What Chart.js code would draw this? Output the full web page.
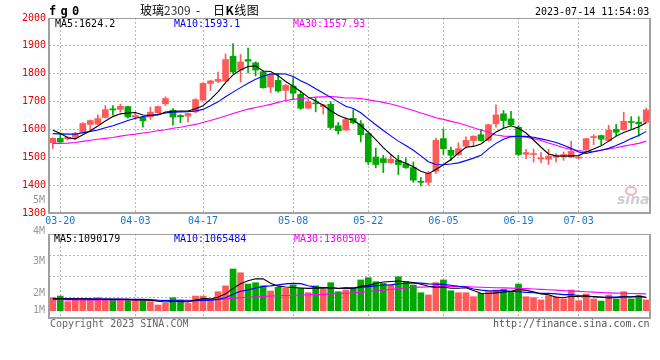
<!DOCTYPE html>
<html><head><meta charset="utf-8">
<script src="https://cdn.jsdelivr.net/npm/chart.js@4.4.0/dist/chart.umd.min.js"></script>
<style>
html,body{margin:0;padding:0;background:#fff;width:660px;height:360px;overflow:hidden;}
body{position:relative;}
canvas{position:absolute;left:0;}
.t{position:absolute;font-family:'DejaVu Sans Mono',monospace;font-size:10px;line-height:10px;white-space:pre;}
.cjk{position:absolute;font-family:'Noto Sans CJK SC',sans-serif;font-size:12px;line-height:12px;white-space:pre;color:#000;}
</style></head><body>
<canvas id="price" width="660" height="233" style="top:0px"></canvas>
<canvas id="vol" width="660" height="100" style="top:226px"></canvas>

<div class="t" style="left:49px;top:5px;font-size:12px;line-height:12px;font-weight:bold;letter-spacing:4.3px;color:#000">fg0</div>
<div class="cjk" style="left:140px;top:4px">玻璃<span style="color:#333">2309</span></div>
<div class="cjk" style="left:196px;top:4px">-</div>
<div class="cjk" style="left:213px;top:4px;letter-spacing:0.5px">日<b>K</b>线图</div>
<div class="t" id="stamp" style="left:535px;top:7px;color:#000"></div>

<div class="t" id="pm5" style="left:55px;top:19px;color:#000"></div>
<div class="t" id="pm10" style="left:174px;top:19px;color:#0000ff"></div>
<div class="t" id="pm30" style="left:293px;top:19px;color:#ff00ff"></div>

<div class="t" id="vm5" style="left:54px;top:234px;color:#000"></div>
<div class="t" id="vm10" style="left:174px;top:234px;color:#0000ff"></div>
<div class="t" id="vm30" style="left:294px;top:234px;color:#ff00ff"></div>

<div id="vlabels"></div>

<div style="position:absolute;left:625px;top:186px;width:8px;height:6px;border:2px solid #f3b4b4;border-radius:50%;"></div>
<div style="position:absolute;left:617px;top:192px;font:italic bold 14px 'DejaVu Sans',sans-serif;line-height:14px;color:#cfcfcf;">sina</div>

<div class="t" style="left:50px;top:319px;color:#666">Copyright 2023 SINA.COM</div>
<div class="t" style="left:493px;top:319px;color:#555">http://finance.sina.com.cn</div>

<script>
// ---------------- data ----------------
const dates = ['03-17','03-20','03-21','03-22','03-23','03-24','03-27','03-28','03-29','03-30','03-31',
 '04-03','04-04','04-06','04-07','04-10','04-11','04-12','04-13','04-14',
 '04-17','04-18','04-19','04-20','04-21','04-24','04-25','04-26','04-27','04-28',
 '05-04','05-05','05-08','05-09','05-10','05-11','05-12','05-15','05-16','05-17','05-18','05-19',
 '05-22','05-23','05-24','05-25','05-26','05-29','05-30','05-31',
 '06-01','06-02','06-05','06-06','06-07','06-08','06-09','06-12','06-13','06-14','06-15','06-16',
 '06-19','06-20','06-21','06-26','06-27','06-28','06-29','06-30',
 '07-03','07-04','07-05','07-06','07-07','07-10','07-11','07-12','07-13','07-14'];
const tickDates = ['03-20','04-03','04-17','05-08','05-22','06-05','06-19','07-03'];
const priceTicks = [1300,1400,1500,1600,1700,1800,1900,2000];

const opens = [1552,1568,1566,1572,1588,1618,1619,1643,1674,1672, 1682,1644,1643,1645,1660,1692,1669,1650,1648,1663,
 1705,1765,1773,1774,1863,1813,1851,1839,1807,1752, 1776,1740,1756,1726,1676,1694,1682,1690,1613,1598,
 1640,1620,1585,1501,1495,1481,1489,1477,1463,1412, 1410,1450,1567,1525,1510,1540,1560,1581,1561,1620,
 1656,1638,1608,1511,1510,1494,1493,1501,1505,1501, 1497,1527,1571,1578,1560,1600,1599,1627,1626,1626];
const closes = [1568,1555,1572,1584,1621,1632,1639,1671,1670,1683, 1645,1650,1631,1662,1682,1711,1644,1645,1657,1707,
 1765,1774,1780,1851,1806,1842,1845,1813,1750,1798, 1738,1758,1730,1676,1699,1692,1688,1607,1595,1635,
 1624,1581,1483,1474,1481,1493,1474,1463,1418,1410, 1442,1561,1531,1507,1531,1561,1576,1560,1617,1652,
 1632,1617,1510,1517,1513,1498,1504,1507,1510,1521, 1499,1567,1573,1565,1597,1590,1629,1625,1620,1670];
const highs = [1570,1585,1574,1590,1625,1634,1652,1686,1686,1691, 1684,1660,1647,1680,1684,1717,1675,1653,1658,1711,
 1768,1777,1806,1871,1908,1869,1892,1843,1810,1800, 1800,1762,1786,1738,1708,1714,1690,1699,1625,1643,
 1671,1632,1588,1533,1507,1510,1507,1495,1483,1427, 1450,1569,1602,1537,1552,1573,1577,1600,1619,1688,
 1668,1665,1614,1529,1529,1517,1529,1513,1519,1557, 1503,1568,1581,1580,1615,1618,1662,1646,1646,1676];
const lows = [1531,1553,1562,1564,1586,1598,1617,1640,1651,1662, 1640,1636,1608,1636,1658,1686,1615,1624,1627,1660,
 1703,1740,1768,1772,1800,1770,1803,1792,1748,1732, 1734,1705,1706,1672,1675,1663,1655,1601,1583,1596,
 1620,1555,1474,1462,1445,1478,1438,1460,1410,1397, 1400,1442,1510,1489,1507,1533,1540,1558,1558,1608,
 1605,1615,1505,1495,1483,1481,1474,1483,1489,1499, 1494,1525,1545,1545,1558,1576,1597,1602,1576,1624];

const ma5 = [1597,1586,1570,1566,1581,1595,1612,1630,1646,1656,1659,1661,1652,1651,1652,1662,1665,1666,1666,1674,
 1685,1708,1735,1768,1796,1813,1826,1828,1810,1808,1793,1772,1755,1736,1716,1702,1687,1667,1651,1639,
 1634,1614,1590,1563,1535,1510,1488,1479,1466,1450,1441,1456,1473,1492,1515,1536,1539,1548,1568,1591,
 1604,1613,1604,1587,1562,1536,1512,1505,1504,1505,1506,1519,1530,1541,1558,1576,1589,1599,1610,1624];
const ma10 = [1585,1584,1583,1583,1588,1593,1598,1606,1613,1622,1632,1640,1646,1650,1654,1659,1662,1663,1664,1666,
 1672,1685,1699,1717,1734,1750,1766,1780,1791,1799,1800,1799,1790,1775,1762,1746,1731,1715,1699,1683,
 1675,1660,1638,1617,1596,1577,1558,1542,1525,1505,1484,1474,1473,1476,1480,1488,1497,1507,1530,1550,
 1565,1574,1575,1575,1572,1566,1560,1553,1543,1532,1519,1514,1520,1525,1532,1542,1554,1567,1578,1593];
const ma30 = [1550,1550,1551,1553,1557,1561,1565,1568,1571,1576,1580,1583,1587,1591,1595,1599,1604,1608,1613,1618,
 1625,1632,1640,1648,1657,1665,1673,1679,1684,1690,1697,1704,1708,1711,1713,1716,1717,1718,1716,1713,
 1713,1711,1706,1702,1697,1691,1684,1676,1668,1659,1651,1642,1636,1629,1623,1615,1606,1598,1590,1580,
 1576,1575,1574,1572,1567,1560,1551,1543,1534,1528,1524,1521,1521,1526,1530,1534,1540,1545,1550,1558];

// volume, in millions
const volumeM = [1.05,1.18,0.73,0.92,0.91,0.91,1.05,0.87,0.87,0.87,0.87,0.87,0.87,0.73,0.46,0.59,1.05,0.87,0.59,1.18,
 1.18,0.91,1.53,2.00,3.36,3.06,2.15,2.26,2.00,1.59,1.89,1.80,2.07,1.80,1.45,2.00,1.72,2.26,1.53,1.67,
 1.86,2.48,2.66,2.34,2.20,2.07,2.74,2.34,2.07,1.45,1.27,2.26,2.48,1.61,1.45,1.45,1.13,1.40,1.53,1.67,
 1.72,1.53,2.15,1.13,1.05,0.87,1.21,1.13,0.95,1.67,0.81,1.35,0.95,0.78,1.27,0.95,1.53,0.95,1.21,0.87];
const volMa5 = [0.95,0.97,0.93,0.95,0.96,0.93,0.90,0.93,0.92,0.91,0.91,0.87,0.87,0.84,0.76,0.70,0.74,0.74,0.71,0.86,
 0.97,0.95,1.08,1.36,1.80,2.17,2.42,2.57,2.57,2.21,1.98,1.91,1.87,1.83,1.80,1.82,1.81,1.85,1.79,1.84,
 1.81,1.96,2.04,2.20,2.31,2.35,2.40,2.34,2.28,2.13,1.97,1.88,1.91,1.81,1.81,1.85,1.62,1.41,1.39,1.44,
 1.49,1.57,1.72,1.64,1.52,1.35,1.28,1.08,1.04,1.17,1.15,1.18,1.15,1.11,1.03,1.06,1.10,1.10,1.18,1.09];
const volMa10 = [0.98,0.98,0.97,0.96,0.96,0.95,0.95,0.94,0.93,0.93,0.92,0.91,0.91,0.89,0.84,0.81,0.81,0.80,0.77,0.80,
 0.83,0.84,0.91,1.04,1.33,1.57,1.68,1.82,1.96,2.00,2.08,2.16,2.20,2.18,2.01,1.90,1.86,1.86,1.81,1.82,
 1.82,1.88,1.94,2.00,2.07,2.08,2.18,2.19,2.24,2.22,2.16,2.14,2.12,2.05,1.97,1.91,1.75,1.66,1.60,1.60,
 1.62,1.57,1.53,1.48,1.45,1.40,1.40,1.36,1.30,1.30,1.22,1.21,1.11,1.08,1.10,1.11,1.14,1.12,1.15,1.07];
const volMa30 = [0.88,0.88,0.87,0.87,0.87,0.87,0.87,0.86,0.86,0.86,0.86,0.86,0.86,0.85,0.84,0.84,0.84,0.84,0.83,0.84,
 0.85,0.87,0.90,0.94,1.00,1.05,1.09,1.12,1.15,1.18,1.20,1.22,1.24,1.26,1.28,1.30,1.32,1.36,1.38,1.41,
 1.44,1.49,1.55,1.60,1.66,1.71,1.78,1.84,1.88,1.90,1.91,1.94,1.96,1.97,1.96,1.94,1.91,1.89,1.87,1.85,
 1.84,1.82,1.80,1.78,1.75,1.72,1.69,1.66,1.62,1.60,1.56,1.53,1.50,1.47,1.44,1.42,1.41,1.39,1.38,1.36];

const priceLegend = ['MA5:1624.2','MA10:1593.1','MA30:1557.93'];
const volLegend = ['MA5:1090179','MA10:1065484','MA30:1360509'];
const volLabels = ['5M','4M','3M','2M','1M'];
const stamp = '2023-07-14 11:54:03';

// ---------------- styles ----------------
const RED = '#ff5a5a', GREEN = '#00a800';
const MONO = 'DejaVu Sans Mono';
const GRID = '#b8b8b8';
const upColors = opens.map((o, i) => closes[i] >= o ? RED : GREEN);

document.getElementById('stamp').textContent = stamp;
['pm5','pm10','pm30'].forEach((id, i) => document.getElementById(id).textContent = priceLegend[i]);
['vm5','vm10','vm30'].forEach((id, i) => document.getElementById(id).textContent = volLegend[i]);
const vlTops = [195, 226, 256, 288, 305];
const vl = document.getElementById('vlabels');
volLabels.forEach((s, i) => {
  const d = document.createElement('div');
  d.className = 't';
  d.style.cssText = 'right:615px;top:' + vlTops[i] + 'px;color:#999;';
  d.textContent = s;
  vl.appendChild(d);
});

const framePlugin = {
  id: 'frame',
  afterDraw(chart) {
    const {ctx, chartArea: a} = chart;
    ctx.save();
    ctx.strokeStyle = '#a0a0a0';
    ctx.lineWidth = 1;
    ctx.beginPath(); ctx.moveTo(a.left, a.top + 0.5); ctx.lineTo(a.right, a.top + 0.5); ctx.stroke();
    ctx.lineWidth = 2;
    ctx.beginPath();
    ctx.moveTo(a.left, a.top); ctx.lineTo(a.left, a.bottom); ctx.lineTo(a.right, a.bottom); ctx.lineTo(a.right, a.top);
    ctx.stroke();
    ctx.restore();
  }
};

function dateAxis(showLabels) {
  return {
    type: 'category',
    offset: true,
    afterBuildTicks: s => { s.ticks = s.ticks.filter(t => tickDates.includes(dates[t.value])); },
    afterFit: s => { s.height = showLabels ? 20 : 0; },
    grid: { display: true, offset: false, drawTicks: false, color: GRID, lineWidth: 1 },
    border: { display: false, dash: [2, 2] },
    ticks: { display: showLabels, autoSkip: false, maxRotation: 0, padding: 2,
             color: '#1874cd', font: { family: MONO, size: 10 } }
  };
}

const lineDs = (data, color) => ({
  type: 'line', data, borderColor: color, borderWidth: 1.1, pointRadius: 0,
  tension: 0, fill: false, order: 1
});

Chart.defaults.animation = false;

new Chart(document.getElementById('price'), {
  type: 'bar',
  data: {
    labels: dates,
    datasets: [
      lineDs(ma5, '#000000'),
      lineDs(ma10, '#0000ff'),
      lineDs(ma30, '#ff00ff'),
      { data: opens.map((o, i) => [o, closes[i]]), backgroundColor: upColors,
        barThickness: 6, grouped: false, minBarLength: 1, order: 2 },
      { data: lows.map((l, i) => [l, highs[i]]), backgroundColor: upColors,
        barThickness: 1, grouped: false, order: 3 }
    ]
  },
  options: {
    responsive: false, animation: false,
    layout: { padding: { top: 18, right: 10, bottom: 0, left: 0 } },
    plugins: { legend: { display: false }, tooltip: { enabled: false } },
    scales: {
      x: dateAxis(true),
      y: {
        type: 'linear', min: priceTicks[0], max: priceTicks[priceTicks.length - 1],
        afterBuildTicks: s => { s.ticks = priceTicks.map(v => ({ value: v })); },
        afterFit: s => { s.width = 49; },
        grid: { drawTicks: false, color: GRID },
        border: { display: false, dash: [2, 2] },
        ticks: { color: '#e00000', padding: 3, font: { family: MONO, size: 10 },
                 callback: v => String(v) }
      }
    }
  },
  plugins: [framePlugin]
});

const volAxisMin = -0.589, volAxisMax = 6.185;
new Chart(document.getElementById('vol'), {
  type: 'bar',
  data: {
    labels: dates,
    datasets: [
      lineDs(volMa5, '#000000'),
      lineDs(volMa10, '#0000ff'),
      lineDs(volMa30, '#ff00ff'),
      { data: volumeM, backgroundColor: upColors, barThickness: 6, grouped: false, order: 2 }
    ]
  },
  options: {
    responsive: false, animation: false,
    layout: { padding: { top: 8, right: 10, bottom: 8, left: 0 } },
    plugins: { legend: { display: false }, tooltip: { enabled: false } },
    scales: {
      x: dateAxis(false),
      y: {
        type: 'linear', min: volAxisMin, max: volAxisMax,
        afterBuildTicks: s => {
          s.ticks = [0, 1, 2, 3, 4].map(j => ({ value: volAxisMin + j * (volAxisMax - volAxisMin) / 4 }));
        },
        afterFit: s => { s.width = 49; },
        grid: { drawTicks: false, color: c => (c.index > 0 && c.index < 4) ? GRID : 'rgba(0,0,0,0)' },
        border: { display: false, dash: [2, 2] },
        ticks: { display: false }
      }
    }
  },
  plugins: [framePlugin]
});
</script>
</body></html>
